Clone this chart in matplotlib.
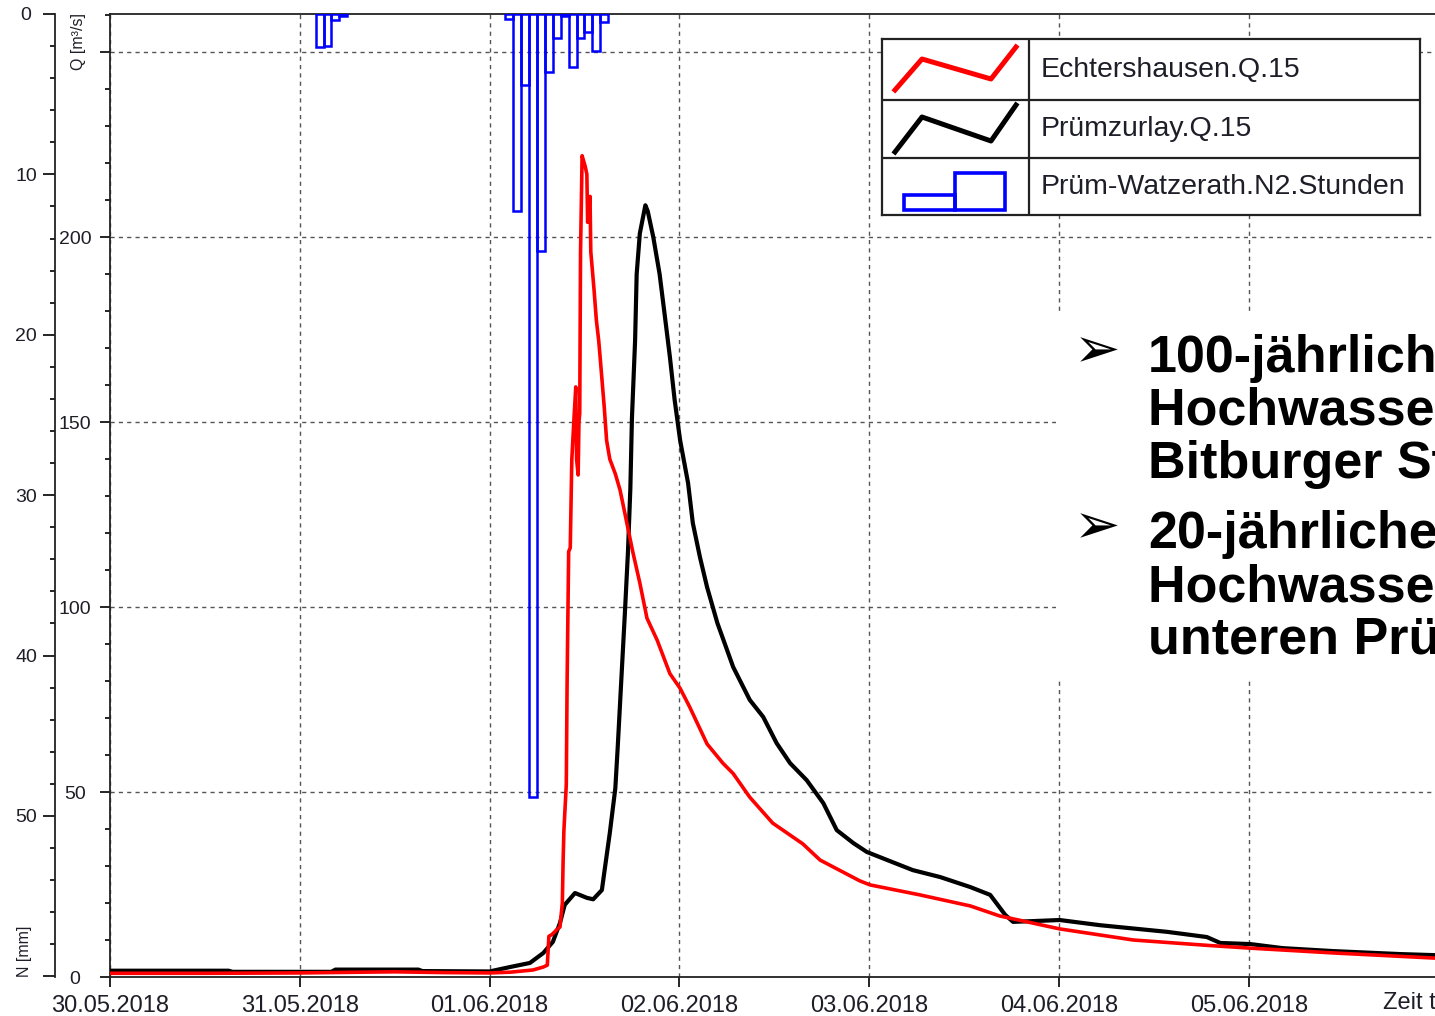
import matplotlib
matplotlib.use("Agg")
import matplotlib.pyplot as plt
from matplotlib import font_manager
from matplotlib.patches import Rectangle
from matplotlib.ticker import FixedLocator, MultipleLocator

plt.rcParams['font.family'] = ['Liberation Sans', 'DejaVu Sans']

W, H = 1435, 1016

# Zeit in Stunden ab 30.05.2018 00:00, Abfluss in m³/s
t_echt = [0, 12, 24, 36, 42, 48, 50.6, 53.5, 54.8, 55.3, 55.5, 55.9, 56.6, 56.9,
          57.2, 57.3, 57.4, 57.7, 57.8, 58.0, 58.2, 58.4, 58.7, 58.9, 59.0, 59.2,
          59.3, 59.4, 59.5, 59.7, 60.1, 60.3, 60.4, 60.7, 60.8, 61.2, 61.5, 61.8,
          62.0, 62.5, 62.8, 63.2, 63.9, 64.5, 65.1, 66.1, 67.0, 67.9, 69.2, 70.8,
          72.1, 73.3, 75.5, 77.5, 78.8, 80.9, 83.8, 87.6, 89.8, 94.8, 96.1, 102.4,
          108.8, 112.5, 120.1, 129.4, 139.1, 144.2, 154.7, 167.6]
q_echt = [1.0, 1.0, 1.1, 1.4, 1.2, 1.1, 1.3, 1.9, 2.7, 3.2, 11.0, 11.5, 13.0, 13.5,
          20.0, 31.6, 39.7, 52.0, 79.0, 115.0, 116.0, 140.0, 152.0, 159.5, 140.0, 135.7,
          150.0, 152.4, 195.7, 222.0, 219.0, 217.0, 204.0, 211.0, 196.0, 186.0, 177.6, 172.0,
          167.0, 154.0, 145.0, 140.0, 136.0, 131.6, 125.4, 115.0, 106.5, 97.0, 91.0, 82.0,
          78.0, 73.0, 63.0, 57.8, 55.0, 48.6, 41.6, 36.0, 31.6, 26.0, 24.9, 22.2,
          19.2, 16.5, 13.0, 10.0, 8.5, 7.8, 6.5, 5.1]

t_pruem = [0, 15, 15.5, 28, 28.5, 39, 39.5, 48, 50.6, 53.1, 54.8, 56.0, 56.9, 57.5,
           58.8, 60.3, 61.1, 62.2, 62.6, 63.2, 63.9, 64.2, 64.7, 65.1, 65.5, 65.8,
           66.0, 66.4, 66.6, 67.0, 67.7, 68.0, 68.7, 69.5, 70.2, 70.8, 71.4, 72.1,
           73.1, 73.7, 74.6, 75.5, 76.8, 78.8, 80.9, 82.6, 84.3, 86.0, 88.1, 90.2,
           91.9, 94.0, 95.7, 98.3, 101.5, 105.0, 108.8, 111.3, 113.2, 114.2, 120.1,
           125.2, 133.7, 138.7, 140.4, 144.2, 148.3, 154.7, 163.1, 167.6]
q_pruem = [1.7, 1.7, 1.4, 1.4, 2.0, 2.0, 1.6, 1.5, 2.7, 3.8, 6.5, 9.5, 14.6, 19.5,
           22.7, 21.4, 21.0, 23.5, 29.7, 38.9, 51.0, 62.0, 82.0, 98.0, 115.0, 132.0,
           151.0, 172.0, 190.0, 201.0, 208.6, 207.0, 200.0, 190.0, 178.0, 167.6, 156.0, 145.0,
           133.5, 122.7, 113.5, 105.4, 95.7, 83.8, 74.9, 70.3, 63.2, 57.8, 53.2, 47.0,
           39.7, 36.2, 33.8, 31.6, 28.9, 27.0, 24.3, 22.2, 16.8, 14.9, 15.4,
           14.0, 12.2, 10.8, 9.2, 8.9, 7.8, 7.0, 6.2, 5.9]

# Niederschlag Prüm-Watzerath, Stundensummen in mm
n_stunde = [26, 27, 28, 29, 50, 51, 52, 53, 54, 55, 56, 57, 58, 59, 60, 61, 62]
n_mm = [2.05, 2.0, 0.4, 0.1, 0.3, 12.3, 4.4, 48.8, 14.8, 3.6, 1.5, 0.15, 3.3, 1.5, 1.1, 2.3, 0.5]

tage = [0, 24, 48, 72, 96, 120, 144]
tag_labels = ['30.05.2018', '31.05.2018', '01.06.2018', '02.06.2018',
              '03.06.2018', '04.06.2018', '05.06.2018']

q_ticks = [0, 50, 100, 150, 200, 250]
q_labels = ['0', '50', '100', '150', '200', '']
n_ticks = [0, 10, 20, 30, 40, 50, 60]
n_labels = ['0', '10', '20', '30', '40', '50', '']

txt_col = '#1e1e28'
px = 72 / 100  # Punkte pro Pixel

fig = plt.figure(figsize=(W / 100, H / 100), dpi=100)
ax = fig.add_axes([110 / W, 1 - 977 / H, (W - 110) / W, (977 - 14) / H])

ax.plot(t_pruem, q_pruem, color='black', lw=3.0, zorder=3)
ax.plot(t_echt, q_echt, color='#ff0000', lw=2.6, zorder=4)

ax.set_xlim(0, (W - 110) / 7.908)
ax.set_ylim(0, 260.3)
ax.xaxis.set_major_locator(FixedLocator(tage))
ax.set_xticklabels(tag_labels, fontsize=17, color=txt_col)
ax.yaxis.set_major_locator(FixedLocator(q_ticks))
ax.yaxis.set_minor_locator(MultipleLocator(10))
ax.set_yticklabels(q_labels, fontsize=14, color=txt_col)
for lbl in ax.get_yticklabels():
    lbl.set_horizontalalignment('center')
ax.tick_params(axis='x', direction='out', length=10 * px, width=1.2, pad=8 * px)
ax.tick_params(axis='y', which='major', direction='out', length=10 * px, width=1.2, pad=25 * px)
ax.tick_params(axis='y', which='minor', direction='out', length=5 * px, width=1.2)
ax.grid(True, which='major', color='#555555', lw=1.0, linestyle=(0, (3, 3)))
ax.spines['right'].set_visible(False)
for s in ['left', 'bottom', 'top']:
    ax.spines[s].set_linewidth(1.3)
    ax.spines[s].set_color('#222222')

# Niederschlagsachse (invertiert)
ax2 = ax.twinx()
ax2.bar(n_stunde, n_mm, width=1.0, align='edge', fill=False,
        edgecolor='#0000ff', lw=1.8, zorder=3)
ax2.set_ylim(60.04, 0)
ax2.yaxis.tick_left()
ax2.spines['left'].set_visible(True)
ax2.spines['left'].set_position(('outward', 55 * px))
ax2.spines['left'].set_linewidth(1.3)
ax2.spines['left'].set_color('#222222')
for s in ['right', 'top', 'bottom']:
    ax2.spines[s].set_visible(False)
ax2.yaxis.set_major_locator(FixedLocator(n_ticks))
ax2.yaxis.set_minor_locator(MultipleLocator(2))
ax2.set_yticklabels(n_labels, fontsize=14, color=txt_col)
for lbl in ax2.get_yticklabels():
    lbl.set_horizontalalignment('center')
ax2.tick_params(axis='y', which='major', direction='out', length=12 * px, width=1.2, pad=17 * px)
ax2.tick_params(axis='y', which='minor', direction='out', length=5 * px, width=1.2)

fig.text(78 / W, 1 - 41 / H, 'Q [m³/s]', rotation=90, ha='center', va='center',
         fontsize=11.5, color=txt_col)
fig.text(24 / W, 1 - 951 / H, 'N [mm]', rotation=90, ha='center', va='center',
         fontsize=11.5, color=txt_col)
fig.text(1383 / W, 1 - 1003 / H, 'Zeit t', ha='left', va='center',
         fontsize=17, color=txt_col)

# Legende als Tabelle
namen = {f.name for f in font_manager.fontManager.ttflist}
if 'Liberation Sans Narrow' in namen:
    leg_font, leg_size = 'Liberation Sans Narrow', 24
else:
    leg_font, leg_size = 'Liberation Sans', 20.5

lax = fig.add_axes([882 / W, 1 - 215 / H, (1420 - 882) / W, (215 - 39) / H])
lax.set_xlim(882, 1420)
lax.set_ylim(215, 39)
lax.set_xticks([])
lax.set_yticks([])
for s in lax.spines.values():
    s.set_linewidth(1.6)
    s.set_color('#222222')
lax.plot([882, 1420], [100, 100], color='#222222', lw=1.6)
lax.plot([882, 1420], [158, 158], color='#222222', lw=1.6)
lax.plot([1029, 1029], [39, 215], color='#222222', lw=1.6)
lax.plot([895, 922, 991, 1016], [90, 59, 79, 47], color='#ff0000', lw=3.6)
lax.plot([895, 922, 991, 1016], [152, 117, 141, 105], color='black', lw=3.6)
lax.add_patch(Rectangle((904, 195), 51, 15, fill=False, edgecolor='#0000ff', lw=2.6))
lax.add_patch(Rectangle((955, 173), 50, 37, fill=False, edgecolor='#0000ff', lw=2.6))
for y, name in zip([70, 129, 187], ['Echtershausen.Q.15', 'Prümzurlay.Q.15',
                                   'Prüm-Watzerath.N2.Stunden']):
    lax.text(1041, y, name, ha='left', va='center', family=leg_font,
             fontsize=leg_size, color=txt_col)

# Textblock der Folie (rechts vom Bildrand angeschnitten wie im Original)
fig.add_artist(Rectangle((1056 / W, 1 - 678 / H), (W - 1056) / W, (678 - 315) / H,
                         transform=fig.transFigure, facecolor='white',
                         edgecolor='none', zorder=2))
zeilen = ['100-jährliches', 'Hochwasser am', 'Bitburger Stausee',
          '20-jährliches', 'Hochwasser an der', 'unteren Prüm']
basis = [372, 425, 478, 548, 601, 654]
for y, z in zip(basis, zeilen):
    fig.text(1148 / W, 1 - y / H, z, ha='left', va='baseline', fontsize=37.5,
             fontweight='bold', color='black', zorder=3)
for y in [352, 528]:
    fig.text(1074 / W, 1 - y / H, '➢', ha='left', va='center', fontsize=40,
             family='DejaVu Sans', color='black', zorder=3)

fig.savefig('out.png', dpi=100)
